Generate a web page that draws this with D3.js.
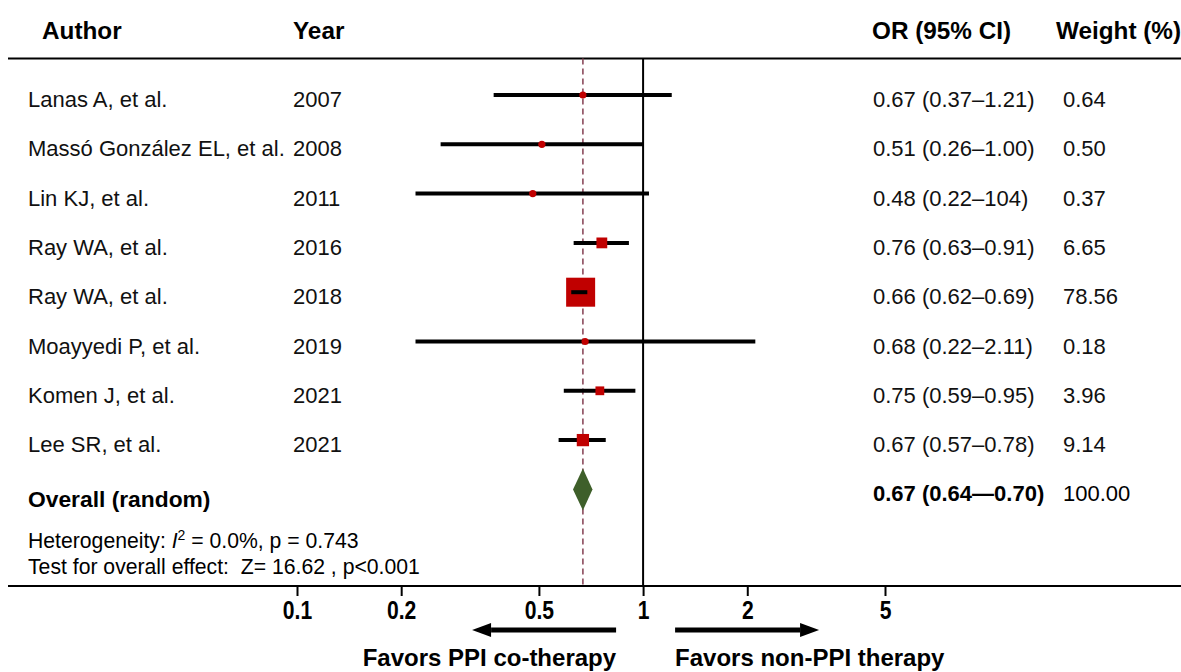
<!DOCTYPE html>
<html>
<head>
<meta charset="utf-8">
<script src="https://cdn.jsdelivr.net/npm/d3@7/dist/d3.min.js"></script>
<style>
  html, body { margin: 0; padding: 0; background: #fff; }
  svg { display: block; font-family: "Liberation Sans", Arial, sans-serif; }
</style>
</head>
<body>
<svg id="chart" width="1181" height="672"></svg>
<script>
// ---- Data ----
const authors = ["Lanas A, et al.", "Massó González EL, et al.", "Lin KJ, et al.", "Ray WA, et al.",
                 "Ray WA, et al.", "Moayyedi P, et al.", "Komen J, et al.", "Lee SR, et al."];
const years = ["2007", "2008", "2011", "2016", "2018", "2019", "2021", "2021"];
const orValues = [0.67, 0.51, 0.48, 0.76, 0.66, 0.68, 0.75, 0.67];
const lowerCI = [0.37, 0.26, 0.22, 0.63, 0.62, 0.22, 0.59, 0.57];
const upperCI = [1.21, 1.00, 1.04, 0.91, 0.69, 2.11, 0.95, 0.78];
const weights = [0.64, 0.50, 0.37, 6.65, 78.56, 0.18, 3.96, 9.14];
const orLabels = ["0.67 (0.37–1.21)", "0.51 (0.26–1.00)", "0.48 (0.22–104)", "0.76 (0.63–0.91)",
                  "0.66 (0.62–0.69)", "0.68 (0.22–2.11)", "0.75 (0.59–0.95)", "0.67 (0.57–0.78)"];
const weightLabels = ["0.64", "0.50", "0.37", "6.65", "78.56", "0.18", "3.96", "9.14"];
const overall = { or: 0.67, lower: 0.64, upper: 0.70, label: "0.67 (0.64—0.70)", weight: "100.00" };
const tickValues = [0.1, 0.2, 0.5, 1, 2, 5];
const tickLabels = ["0.1", "0.2", "0.5", "1", "2", "5"];

// ---- Layout ----
const svg = d3.select("#chart");
const W = 1181;
const x = d3.scaleLog().domain([0.1, 5]).range([297, 885]);
const rowIdx = d3.range(authors.length + 1);
const y = d3.scalePoint().domain(rowIdx).range([95, 489.4]);
const boxSize = d3.scalePow().exponent(0.4).domain([0, 78.56]).range([0, 29]);

const topLineY = 58.5, axisY = 586;
const colAuthor = 28, colYear = 293, colOR = 873, colW = 1063;
const textOff = 12;  // baseline offset below row line
const red = "#c00000", green = "#3e5f2a", refColor = "#8c4a5c";

// header
const hdr = svg.append("g").attr("font-weight", "bold").attr("font-size", 24.3);
hdr.append("text").attr("x", 42).attr("y", 39).text("Author");
hdr.append("text").attr("x", colYear).attr("y", 39).text("Year");
hdr.append("text").attr("x", 872).attr("y", 39).text("OR (95% CI)");
hdr.append("text").attr("x", 1056).attr("y", 39).text("Weight (%)");

// horizontal rules
svg.append("line").attr("x1", 8).attr("x2", W).attr("y1", topLineY).attr("y2", topLineY)
  .attr("stroke", "#000").attr("stroke-width", 2);

// reference dashed line at overall estimate
svg.append("line").attr("x1", x(overall.or)).attr("x2", x(overall.or))
  .attr("y1", topLineY).attr("y2", axisY)
  .attr("stroke", refColor).attr("stroke-width", 1.6).attr("stroke-dasharray", "6,4");

// null line
svg.append("line").attr("x1", x(1)).attr("x2", x(1)).attr("y1", topLineY).attr("y2", axisY)
  .attr("stroke", "#000").attr("stroke-width", 2);

// axis
const axis = d3.axisBottom(x).tickValues(tickValues).tickFormat((d, i) => tickLabels[i])
  .tickSize(10).tickPadding(5);
const gAxis = svg.append("g").attr("transform", `translate(0,${axisY})`).call(axis);
gAxis.select(".domain").remove();
gAxis.selectAll(".tick line").attr("stroke", "#000").attr("stroke-width", 2);
gAxis.selectAll(".tick text").attr("font-size", 24).attr("font-weight", "bold")
  .attr("font-family", "'Liberation Sans', Arial, sans-serif").attr("fill", "#000")
  .attr("transform", "scale(0.88,1.04)");
svg.append("line").attr("x1", 8).attr("x2", W).attr("y1", axisY).attr("y2", axisY)
  .attr("stroke", "#000").attr("stroke-width", 2);

// study rows
const rows = svg.append("g");
const idx = d3.range(authors.length);
rows.selectAll("line.ci").data(idx).join("line").attr("class", "ci")
  .attr("x1", i => x(lowerCI[i])).attr("x2", i => x(upperCI[i]))
  .attr("y1", i => y(i)).attr("y2", i => y(i))
  .attr("stroke", "#000").attr("stroke-width", 4);
idx.forEach(i => {
  const s = boxSize(weights[i]);
  if (s < 6) {
    rows.append("circle").attr("cx", x(orValues[i])).attr("cy", y(i)).attr("r", 3.6).attr("fill", red);
  } else {
    rows.append("rect").attr("x", x(orValues[i]) - s / 2).attr("y", y(i) - s / 2)
      .attr("width", s).attr("height", s).attr("fill", red);
  }
});
idx.filter(i => x(upperCI[i]) - x(lowerCI[i]) < boxSize(weights[i])).forEach(i => {
  rows.append("line").attr("x1", x(lowerCI[i])).attr("x2", x(upperCI[i]))
    .attr("y1", y(i)).attr("y2", y(i)).attr("stroke", "#000").attr("stroke-width", 4);
});

// text columns
const txt = svg.append("g").attr("font-size", 22).attr("fill", "#111");
idx.forEach(i => {
  const by = y(i) + textOff;
  txt.append("text").attr("x", colAuthor).attr("y", by).text(authors[i]);
  txt.append("text").attr("x", colYear).attr("y", by).text(years[i]);
  txt.append("text").attr("x", colOR).attr("y", by).text(orLabels[i]);
  txt.append("text").attr("x", colW).attr("y", by).text(weightLabels[i]);
});

// overall
const oy = y(authors.length);
const half = 21;
const dw = 3;
svg.append("path")
  .attr("d", `M${x(overall.lower) - dw},${oy} L${x(overall.or)},${oy - half} L${x(overall.upper) + dw},${oy} L${x(overall.or)},${oy + half} Z`)
  .attr("fill", green);
svg.append("text").attr("x", colAuthor).attr("y", oy + 18).attr("font-size", 22.8)
  .attr("font-weight", "bold").text("Overall (random)");
svg.append("text").attr("x", colOR).attr("y", oy + 12).attr("font-size", 22)
  .attr("font-weight", "bold").text(overall.label);
svg.append("text").attr("x", colW).attr("y", oy + 12).attr("font-size", 22).text(overall.weight);

const het = svg.append("text").attr("x", colAuthor).attr("y", 548).attr("font-size", 21.2);
het.append("tspan").text("Heterogeneity: ");
het.append("tspan").attr("font-style", "italic").text("I");
het.append("tspan").attr("font-size", 14).attr("dy", -8).text("2");
het.append("tspan").attr("dy", 8).text(" = 0.0%, p = 0.743");
svg.append("text").attr("x", colAuthor).attr("y", 574).attr("font-size", 21.2)
  .attr("xml:space", "preserve").text("Test for overall effect:  Z= 16.62 , p<0.001");

// arrows
const arrowY = 630;
function arrow(xFrom, xTo) {
  const dir = Math.sign(xTo - xFrom);
  const head = 19;
  svg.append("line").attr("x1", xFrom).attr("x2", xTo - dir * head).attr("y1", arrowY).attr("y2", arrowY)
    .attr("stroke", "#000").attr("stroke-width", 5);
  svg.append("path").attr("d", `M${xTo},${arrowY} L${xTo - dir * head},${arrowY - 7} L${xTo - dir * head},${arrowY + 7} Z`)
    .attr("fill", "#000");
}
arrow(x(1) - 27, x(1) - 171);
arrow(x(1) + 32, x(1) + 176);
svg.append("text").attr("x", x(1) - 27).attr("y", 666).attr("text-anchor", "end")
  .attr("font-size", 24).attr("font-weight", "bold").text("Favors PPI co-therapy");
svg.append("text").attr("x", x(1) + 32).attr("y", 666)
  .attr("font-size", 24).attr("font-weight", "bold").text("Favors non-PPI therapy");
</script>
</body>
</html>
